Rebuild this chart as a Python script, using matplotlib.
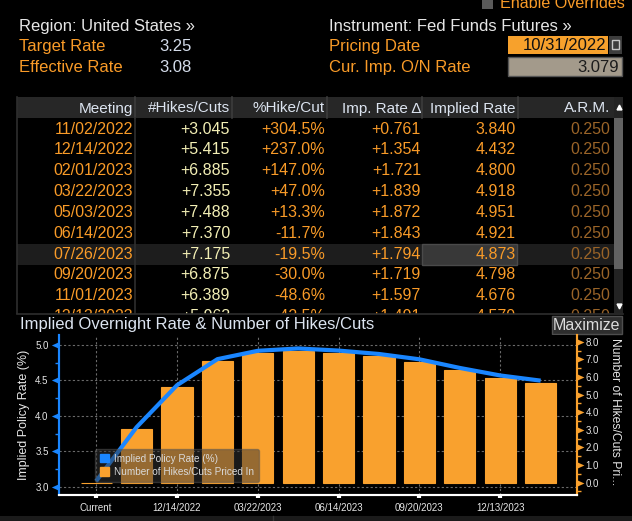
import matplotlib
matplotlib.use('Agg')
import matplotlib.pyplot as plt
import matplotlib.patches as patches
from matplotlib.path import Path
from matplotlib.ticker import MultipleLocator, FormatStrFormatter
import numpy as np

plt.rcParams['font.family'] = ['Liberation Sans', 'DejaVu Sans']

W, H = 632, 521

# top info
region = 'United States'
instrument = 'Fed Funds Futures'
target_rate = '3.25'
effective_rate = '3.08'
pricing_date = '10/31/2022'
cur_imp_rate = '3.079'

# table
columns = ['Meeting', '#Hikes/Cuts', '%Hike/Cut', 'Imp. Rate Δ', 'Implied Rate', 'A.R.M.']
meetings = ['11/02/2022', '12/14/2022', '02/01/2023', '03/22/2023', '05/03/2023',
            '06/14/2023', '07/26/2023', '09/20/2023', '11/01/2023', '12/13/2023']
hikes = [3.045, 5.415, 6.885, 7.355, 7.488, 7.370, 7.175, 6.875, 6.389, 5.963]
pct_hike = [304.5, 237.0, 147.0, 47.0, 13.3, -11.7, -19.5, -30.0, -48.6, -42.5]
imp_delta = [0.761, 1.354, 1.721, 1.839, 1.872, 1.843, 1.794, 1.719, 1.597, 1.491]
implied = [3.840, 4.432, 4.800, 4.918, 4.951, 4.921, 4.873, 4.798, 4.676, 4.570]
arm = [0.250] * 10

# chart (current + meetings + one more off the table)
chart_labels = ['Current', '11/02/2022', '12/14/2022', '02/01/2023', '03/22/2023', '05/03/2023',
                '06/14/2023', '07/26/2023', '09/20/2023', '11/01/2023', '12/13/2023', '01/31/2024']
chart_rate = [3.079, 3.840, 4.432, 4.800, 4.918, 4.951, 4.921, 4.873, 4.798, 4.676, 4.570, 4.497]
chart_hikes = [0.0, 3.045, 5.415, 6.885, 7.355, 7.488, 7.370, 7.175, 6.875, 6.389, 5.963, 5.672]

ORANGE = '#f99b28'
WHITE = '#e6e6e6'
BAR = '#f9a12e'
BLUE = '#1a86ff'

fig = plt.figure(figsize=(W / 100, H / 100), dpi=100, facecolor='black')
bg = fig.add_axes([0, 0, 1, 1])
bg.set_xlim(0, W)
bg.set_ylim(H, 0)
bg.axis('off')
bg.set_facecolor('black')


def txt(x, y, s, color=WHITE, size=12, ha='left', va='center', z=3, **kw):
    return bg.text(x, y, s, color=color, fontsize=size, ha=ha, va=va, zorder=z, **kw)


def box(x0, y0, x1, y1, fc, ec='none', z=1, lw=1):
    bg.add_patch(patches.Rectangle((x0, y0), x1 - x0, y1 - y0, facecolor=fc,
                                   edgecolor=ec, lw=lw, zorder=z))


# ---- top area
box(482, -2, 493, 9, '#5a5a5a')
txt(500, 4, 'Enable Overrides', ORANGE, size=11.6)
txt(19, 26.5, 'Region: ' + region + ' »')
txt(19, 46.5, 'Target Rate', ORANGE)
txt(19, 67.5, 'Effective Rate', ORANGE)
txt(192, 46.5, target_rate, '#d4dcea', ha='right')
txt(192, 67.5, effective_rate, '#d4dcea', ha='right')
txt(329, 26.5, 'Instrument: ' + instrument + ' »')
txt(329, 46.5, 'Pricing Date', ORANGE)
txt(329, 67.5, 'Cur. Imp. O/N Rate', ORANGE)
box(508, 36, 608, 54, '#f7a12c')
txt(606, 45.5, pricing_date, '#111111', ha='right')
box(609, 36, 622, 54, '#3c3c3c')
box(612, 40, 619, 49, 'none', ec='#c8c8c8', z=2)
box(508, 57, 622, 76, '#a39a8b', ec='#555555')
txt(619, 67, cur_imp_rate, '#1c1c1c', ha='right')

# ---- table
col_right = [133, 230, 325, 421, 516, 610]
seps = [135, 232, 327, 422, 518]
box(17, 97, 614, 118, '#272727')
for s in seps:
    bg.plot([s, s], [97, 118], color='#3c3c3c', lw=1.2, zorder=2)
bg.plot([135, 135], [118, 314], color='#2e2e2e', lw=1.2, zorder=2)
bg.plot([17, 17], [97, 314], color='#2e2e2e', lw=1.2, zorder=2)
for c, r in zip(columns, col_right):
    txt(r, 108.5, c, '#dce4f0', size=11, ha='right')

# highlighted row
box(17, 243.5, 614, 264.5, '#1d1d1d')
box(422, 243.5, 517, 264.5, '#383838', ec='#4a4a4a')

for i in range(len(meetings)):
    y = 129 + 20.85 * i
    txt(col_right[0], y, meetings[i], ORANGE, size=11.5, ha='right')
    txt(col_right[1], y, '%+.3f' % hikes[i], '#f2eeb4', size=11.5, ha='right')
    txt(col_right[2], y, '%+.1f%%' % pct_hike[i], ORANGE, size=11.5, ha='right')
    txt(col_right[3], y, '%+.3f' % imp_delta[i], ORANGE, size=11.5, ha='right')
    txt(col_right[4], y, '%.3f' % implied[i], ORANGE, size=11.5, ha='right')
    txt(col_right[5], y, '%.3f' % arm[i], '#9a6428', size=11.5, ha='right')

# scrollbar
box(614, 97, 623, 313, '#232323', z=2)
box(614, 118, 623, 269, '#626262', z=2)
bg.plot([618.5], [107], marker='^', color='white', ms=3.5, zorder=3)
bg.plot([618.5], [306], marker='v', color='white', ms=3.5, zorder=3)

# cut off the partial last row
box(0, 313.5, W, 336, 'black', z=5)
bg.plot([17, 623], [313.5, 313.5], color='#2e2e2e', lw=1.2, zorder=6)
txt(20, 325, 'Implied Overnight Rate & Number of Hikes/Cuts', '#dce4f0', size=12, z=7)
box(552, 316, 622, 334, '#2e2e2e', ec='#4e4e4e', z=7)
txt(587, 325, 'Maximize', '#dcdcdc', size=11.5, ha='center', z=8)

# bottom strip
box(0, 516, W, H + 1, '#1b1b1b', z=2)
bg.plot([273, 273], [516, H], color='#333333', lw=1, zorder=3)

# ---- chart
ax = fig.add_axes([59 / W, (H - 495) / H, 518 / W, 160 / H])
ax.set_facecolor('black')
ax2 = ax.twinx()
x = np.arange(len(chart_labels))

ax2.bar(x, chart_hikes, width=0.77, color=BAR, edgecolor=BAR, lw=0.8, zorder=2)
ax2.plot(x, chart_rate, color=BLUE, lw=3, transform=ax.transData, zorder=3,
         solid_capstyle='butt')

ax.set_xlim(-0.92, 11.9)
ax.set_ylim(2.883, 5.141)
ax2.set_ylim(-0.70, 8.38)

ax.set_xticks(x[::2])
ax.set_xticklabels(chart_labels[::2], color=WHITE, fontsize=7)
ax.tick_params(axis='x', length=2.5, width=3, color='white', pad=3)

yt_left = [3.0, 3.5, 4.0, 4.5, 5.0]
ax.set_yticks(yt_left)
ax.yaxis.set_minor_locator(MultipleLocator(0.25))
ax.yaxis.set_major_formatter(FormatStrFormatter('%.1f'))
ax.tick_params(axis='y', which='major', length=0, labelsize=7, labelcolor=WHITE, pad=7.5)
ax.tick_params(axis='y', which='minor', length=3, width=1, color=BLUE)

yt_right = np.arange(0, 9, 1.0)
ax2.set_yticks(yt_right)
ax2.yaxis.set_minor_locator(MultipleLocator(0.5))
ax2.yaxis.set_major_formatter(FormatStrFormatter('%.1f'))
ax2.tick_params(axis='y', which='major', length=0, labelsize=7, labelcolor=WHITE, pad=6)
ax2.tick_params(axis='y', which='minor', length=3, width=1, color=BAR)

# triangle tick markers
tri_l = Path([(0, -0.45), (-1, 0), (0, 0.45), (0, -0.45)])
tri_r = Path([(0, -0.45), (1, 0), (0, 0.45), (0, -0.45)])
ax.plot(np.zeros(len(yt_left)), yt_left, ls='none', marker=tri_l, ms=11, color=BLUE,
        mew=0, transform=ax.get_yaxis_transform(), clip_on=False)
ax2.plot(np.ones(len(yt_right)), yt_right, ls='none', marker=tri_r, ms=10, color=BAR,
         mew=0, transform=ax2.get_yaxis_transform(), clip_on=False)

for a in (ax, ax2):
    a.spines['top'].set_visible(False)
    a.spines['left'].set_color(BLUE)
    a.spines['right'].set_color(BAR)
    a.spines['bottom'].set_color('white')
    a.spines['left'].set_linewidth(1.5)
    a.spines['right'].set_linewidth(1.5)
    a.spines['bottom'].set_linewidth(1.5)

ax.grid(True, which='major', color='#6a6a6a', lw=0.8, linestyle=(0, (2, 2)))
ax.set_axisbelow(True)

ax.set_ylabel('Implied Policy Rate (%)', color=WHITE, fontsize=9)
ax.yaxis.set_label_coords(-0.056, 0.5)
fig.text(615 / W, 1 - 338 / H, 'Number of Hikes/Cuts Pri...', rotation=270, color=WHITE,
         fontsize=8.7, ha='center', va='top')

handles = [patches.Patch(color=BLUE), patches.Patch(color=BAR)]
leg = ax2.legend(handles, ['Implied Policy Rate (%)', 'Number of Hikes/Cuts Priced In'],
                 loc='lower left', bbox_to_anchor=(0.07, 0.081), borderaxespad=0,
                 fontsize=7.2, handlelength=0.9, handleheight=0.9, handletextpad=0.5,
                 labelspacing=0.35, borderpad=0.5, fancybox=True, framealpha=0.5,
                 facecolor='#353535', edgecolor='#555555', labelcolor='#dadada')
leg.set_zorder(10)

fig.savefig('out.png', dpi=100, facecolor='black')
